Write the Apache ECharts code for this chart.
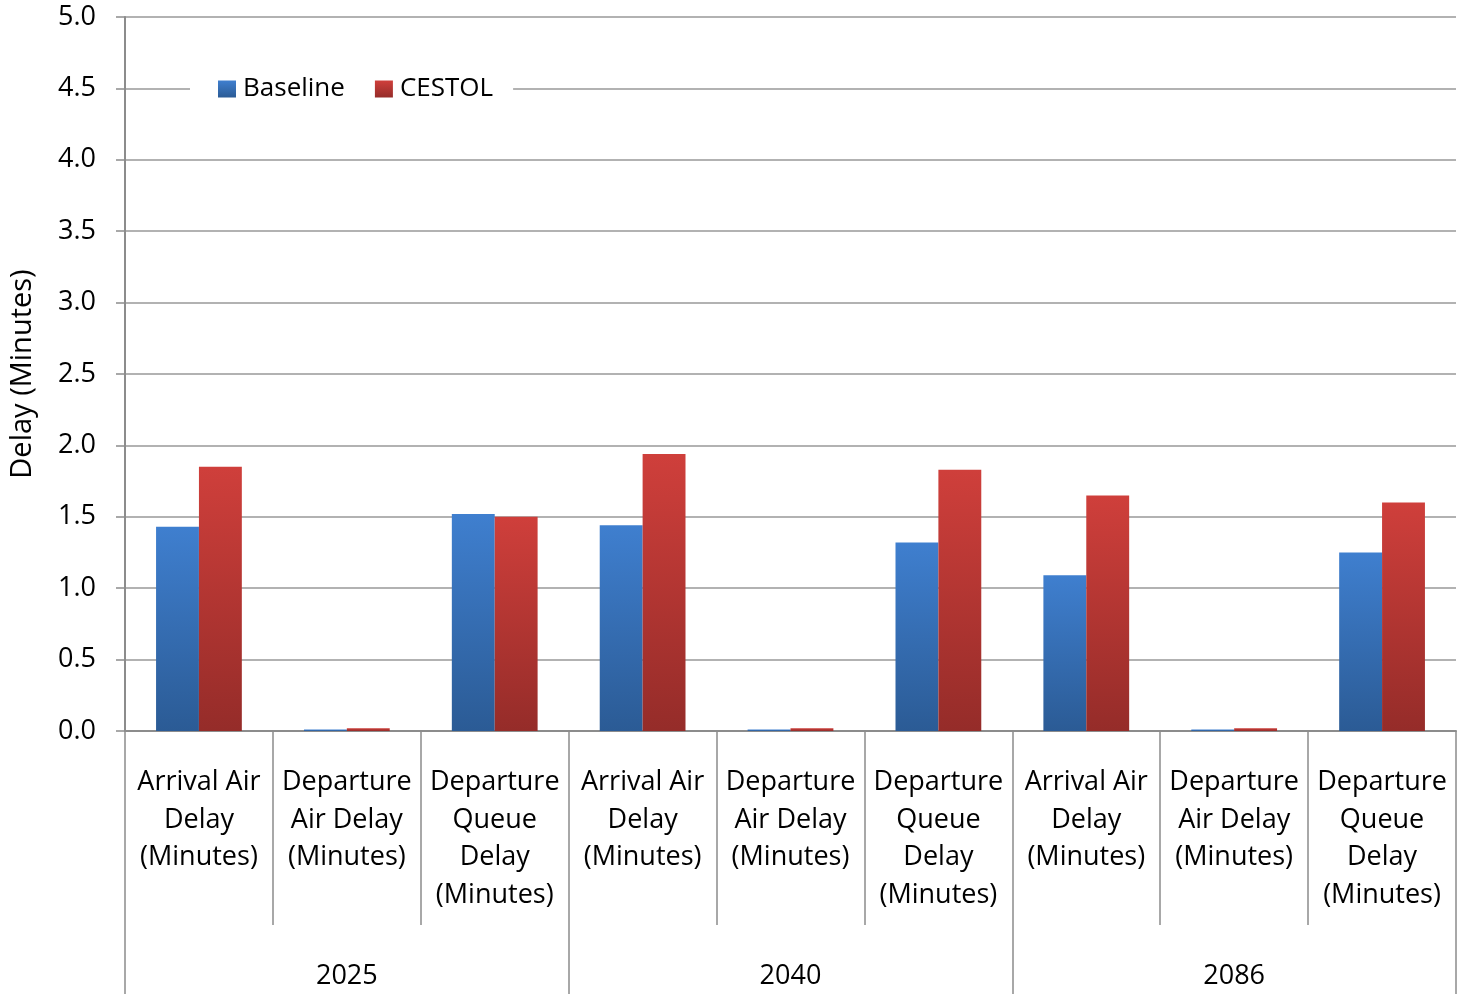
<!DOCTYPE html>
<html><head><meta charset="utf-8">
<script src="https://cdn.jsdelivr.net/npm/echarts@6/dist/echarts.min.js"></script>
<style>html,body{margin:0;padding:0;background:#fff}#c{width:1460px;height:994px}</style>
</head><body><div id="c"></div>
<script>
const years = ['2025', '2040', '2086'];
const measures = ['Arrival Air\nDelay\n(Minutes)', 'Departure\nAir Delay\n(Minutes)', 'Departure\nQueue\nDelay\n(Minutes)'];
const baseline = [1.43, 0.01, 1.52, 1.44, 0.01, 1.32, 1.09, 0.01, 1.25];
const cestol   = [1.85, 0.02, 1.50, 1.94, 0.02, 1.83, 1.65, 0.02, 1.60];
const yTicks = { min: 0, max: 5, interval: 0.5 };

const cats = [];
years.forEach(() => measures.forEach(m => cats.push(m)));
const FONT = '"Open Sans", "Noto Sans", sans-serif';
const grad = (top, bot) => new echarts.graphic.LinearGradient(0, 0, 0, 1, [{offset: 0, color: top}, {offset: 1, color: bot}]);

const chart = echarts.init(document.getElementById('c'), null, {renderer: 'canvas'});
chart.setOption({
  animation: false,
  backgroundColor: '#fff',
  textStyle: {fontFamily: FONT},
  grid: {left: 125, right: 4, top: 17, bottom: 263, containLabel: false, outerBoundsMode: 'none'},
  legend: {
    left: 190, top: 72,
    padding: [4, 20, 4, 28],
    backgroundColor: '#fff',
    itemWidth: 18, itemHeight: 17, itemGap: 30,
    icon: 'rect',
    textStyle: {fontSize: 26, color: '#000', fontFamily: FONT, padding: [0, 0, 0, 2]},
    data: ['Baseline', 'CESTOL']
  },
  xAxis: [{
    type: 'category', data: cats, position: 'bottom',
    axisLine: {show: true, lineStyle: {color: '#8c8c8c', width: 2}},
    axisTick: {show: true, length: 194, interval: 0, lineStyle: {color: '#8c8c8c', width: 1.5}},
    axisLabel: {interval: 0, fontSize: 27, lineHeight: 37.5, color: '#000', margin: 33, fontFamily: FONT}
  }, {
    type: 'category', data: years, position: 'bottom',
    axisLine: {show: false},
    axisTick: {show: true, length: 263, interval: 0, lineStyle: {color: '#8c8c8c', width: 1.5}},
    axisLabel: {fontSize: 27, color: '#000', margin: 232, fontFamily: FONT}
  }],
  yAxis: {
    type: 'value', min: yTicks.min, max: yTicks.max, interval: yTicks.interval,
    name: 'Delay (Minutes)', nameLocation: 'middle', nameGap: 88, nameRotate: 90,
    nameTextStyle: {fontSize: 29, color: '#000', fontFamily: FONT},
    axisLine: {show: true, lineStyle: {color: '#8c8c8c', width: 2}},
    axisTick: {show: true, length: 9, lineStyle: {color: '#8c8c8c', width: 1.5}},
    axisLabel: {fontSize: 27, color: '#000', margin: 29, formatter: v => v.toFixed(1), fontFamily: FONT},
    splitLine: {lineStyle: {color: '#999', width: 1.5}}
  },
  series: [{
    name: 'Baseline', type: 'bar', data: baseline, xAxisIndex: 0,
    barGap: '0%', barCategoryGap: '42%',
    itemStyle: {color: grad('#3f7fcf', '#2b5b95')}
  }, {
    name: 'CESTOL', type: 'bar', data: cestol, xAxisIndex: 0,
    barGap: '0%', barCategoryGap: '42%',
    itemStyle: {color: grad('#cf3f3b', '#952c29')}
  }]
});
</script></body></html>
